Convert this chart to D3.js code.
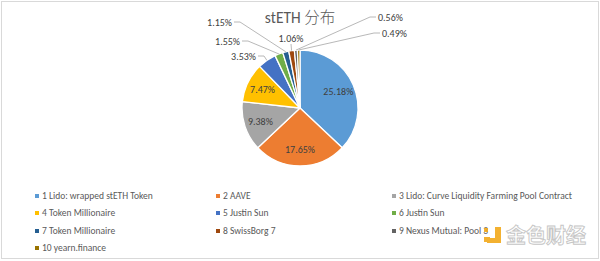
<!DOCTYPE html>
<html>
<head>
<meta charset="utf-8">
<script src="https://cdn.jsdelivr.net/npm/d3@7"></script>
<style>
  html, body { margin: 0; padding: 0; background: #fff; }
  svg { display: block; }
</style>
</head>
<body>
<svg id="chart" width="600" height="261"></svg>
<script>
// stETH holder distribution
const categories = [
  "1 Lido: wrapped stETH Token",
  "2 AAVE",
  "3 Lido: Curve Liquidity Farming Pool Contract",
  "4 Token Millionaire",
  "5 Justin Sun",
  "6 Justin Sun",
  "7 Token Millionaire",
  "8 SwissBorg 7",
  "9 Nexus Mutual: Pool 3",
  "10 yearn.finance"
];
const shares = [25.18, 17.65, 9.38, 7.47, 3.53, 1.55, 1.15, 1.06, 0.56, 0.49];
const valueLabels = ["25.18%", "17.65%", "9.38%", "7.47%", "3.53%", "1.55%", "1.15%", "1.06%", "0.56%", "0.49%"];
const colors = ["#5B9BD5", "#ED7D31", "#A5A5A5", "#FFC000", "#4472C4",
                "#70AD47", "#255E91", "#9E480E", "#636363", "#997300"];
const title = "stETH 分布";

// layout
const W = 600, H = 261;
const cx = 300, cy = 108, R = 58;
const font = "Carlito, 'Open Sans', 'Liberation Sans', sans-serif";

// outside label anchors for the thin slices (index -> text anchor point, side)
const outside = {
  4: { x: 256, y: 56, side: "left" },
  5: { x: 240, y: 41, side: "left" },
  6: { x: 232, y: 22, side: "left" },
  7: { x: 291, y: 38, side: "top" },
  8: { x: 378, y: 17, side: "right" },
  9: { x: 382, y: 33, side: "right" }
};

const svg = d3.select("#chart");

// frame
svg.append("rect")
  .attr("x", 1.5).attr("y", 1.5)
  .attr("width", W - 3).attr("height", H - 4)
  .attr("fill", "#fff").attr("stroke", "#d9d9d9");

// title
svg.append("text")
  .attr("x", 300).attr("y", 23)
  .attr("text-anchor", "middle")
  .attr("font-family", "Carlito, 'Noto Sans CJK SC', sans-serif")
  .attr("font-size", 15.5)
  .attr("font-weight", 300)
  .attr("fill", "#595959")
  .text(title);

const pie = d3.pie().sort(null).value(d => d)(shares);
const arc = d3.arc().innerRadius(0).outerRadius(R);
const labelArc = d3.arc().innerRadius(R * 0.72).outerRadius(R * 0.72);
const edgeArc = d3.arc().innerRadius(R).outerRadius(R);

const g = svg.append("g").attr("transform", `translate(${cx},${cy})`);

g.selectAll("path.slice")
  .data(pie)
  .join("path")
  .attr("class", "slice")
  .attr("d", arc)
  .attr("fill", (d, i) => colors[i])
  .attr("stroke", "#fff")
  .attr("stroke-width", 1.3)
  .attr("stroke-linejoin", "round");

// inside labels
g.selectAll("text.inside")
  .data(pie.filter((d, i) => !(i in outside)))
  .join("text")
  .attr("class", "inside")
  .attr("transform", d => `translate(${labelArc.centroid(d)})`)
  .attr("text-anchor", "middle")
  .attr("dy", "0.35em")
  .attr("font-family", font)
  .attr("font-size", 10)
  .attr("fill", "#404040")
  .text(d => valueLabels[d.index]);

// outside labels with leader lines
const outs = pie.filter((d, i) => i in outside);
outs.forEach(d => {
  const o = outside[d.index];
  const [ex, ey] = edgeArc.centroid(d);
  const px = cx + ex, py = cy + ey;
  let pts, anchor;
  if (o.side === "left") {
    pts = [[o.x + 2, o.y], [o.x + 8, o.y], [px, py]];
    anchor = "end";
  } else if (o.side === "right") {
    pts = [[o.x - 2, o.y], [o.x - 8, o.y], [px, py]];
    anchor = "start";
  } else {
    pts = [[o.x, o.y + 6], [px, py]];
    anchor = "middle";
  }
  svg.append("path")
    .attr("d", d3.line()(pts))
    .attr("fill", "none")
    .attr("stroke", "#a6a6a6")
    .attr("stroke-width", 0.8);
  svg.append("text")
    .attr("x", o.x).attr("y", o.y)
    .attr("dy", "0.35em")
    .attr("text-anchor", anchor)
    .attr("font-family", font)
    .attr("font-size", 10)
    .attr("fill", "#404040")
    .text(valueLabels[d.index]);
});

// legend: three columns
const colX = [37, 218, 394];
const rowY = [196, 213, 231, 248];
const legend = svg.append("g");
categories.forEach((c, i) => {
  const x = colX[i % 3], y = rowY[Math.floor(i / 3)];
  legend.append("rect")
    .attr("x", x - 2).attr("y", y - 2)
    .attr("width", 4).attr("height", 4)
    .attr("fill", colors[i]);
  legend.append("text")
    .attr("x", x + 5).attr("y", y)
    .attr("dy", "0.35em")
    .attr("font-family", font)
    .attr("font-size", 9.5)
    .attr("fill", "#595959")
    .text(c);
});

// watermark
const wm = svg.append("g").attr("opacity", 0.9);
const gold = "#F2A91B";
[[484, 228, 4, 4], [484, 237, 6, 5], [495, 227, 6, 16], [487, 238, 14, 5]].forEach(r => {
  wm.append("rect").attr("x", r[0]).attr("y", r[1]).attr("width", r[2]).attr("height", r[3]).attr("fill", gold);
});
wm.append("text")
  .attr("x", 506).attr("y", 243)
  .attr("font-family", "'Noto Sans CJK SC', sans-serif")
  .attr("font-size", 20)
  .attr("font-weight", 700)
  .attr("fill", "#fff")
  .attr("stroke", "#c0c0c0")
  .attr("stroke-width", 0.9)
  .text("金色财经");
</script>
</body>
</html>
